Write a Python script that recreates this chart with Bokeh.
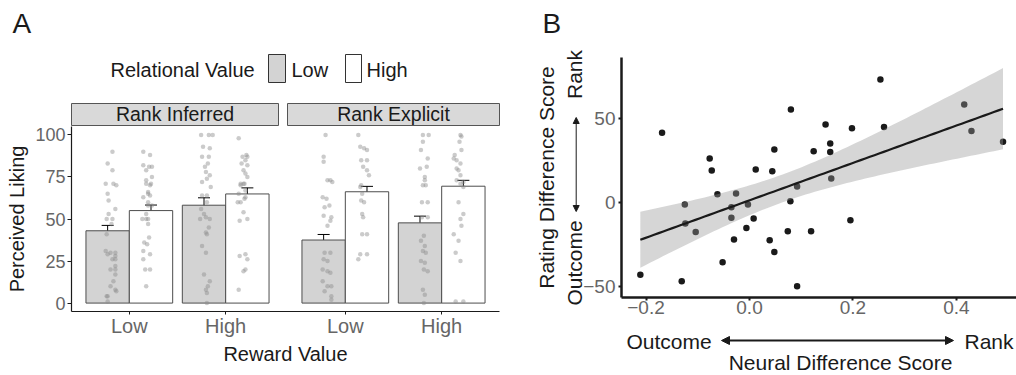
import numpy as np
from bokeh.plotting import figure
from bokeh.models import (FactorRange, Range1d, FixedTicker, Label, BoxAnnotation,
                          Arrow, NormalHead, ColumnDataSource, Whisker, TeeHead)
from bokeh.transform import dodge
from bokeh.layouts import row
from bokeh.embed import file_html
from bokeh.resources import INLINE

FONT = "Liberation Sans"

# ---------------- data: panel A ----------------
facets = ["Rank Inferred", "Rank Explicit"]
reward_levels = ["Low", "High"]
relational_levels = ["Low", "High"]

# mean perceived liking and SE, by reward value (Low, High)
inferred_rel_low_mean = [43.0, 58.2]
inferred_rel_low_se = [3.2, 4.4]
inferred_rel_high_mean = [55.0, 64.9]
inferred_rel_high_se = [3.3, 3.6]
explicit_rel_low_mean = [37.5, 47.7]
explicit_rel_low_se = [3.3, 4.0]
explicit_rel_high_mean = [66.2, 69.5]
explicit_rel_high_se = [3.2, 3.5]

# individual ratings (y) and their horizontal jitter (dx, category units)
inf_lowrw_lowrel_y = [90, 83, 79, 71, 71, 70, 65, 61, 56, 53, 50, 50, 47, 41, 31, 30, 30, 29, 28, 26,
                      26, 22, 20, 20, 17, 13, 10, 8, 7, 4, 4, 1]
inf_lowrw_lowrel_dx = [0.05, 0.00, 0.05, -0.02, 0.06, 0.09, 0.00, 0.01, 0.08, 0.01, -0.01, 0.05, 0.04,
                       -0.01, -0.02, 0.03, 0.08, 0.00, 0.08, 0.05, 0.08, 0.08, 0.03, 0.08, 0.08, 0.06,
                       0.03, 0.08, 0.09, -0.01, 0.00, 0.00]
inf_lowrw_highrel_y = [90, 88, 82, 81, 81, 79, 75, 73, 71, 71, 70, 66, 65, 64, 63, 60, 58, 58, 53, 50,
                       50, 50, 47, 39, 36, 35, 31, 29, 26, 20, 20, 10]
inf_lowrw_highrel_dx = [-0.08, -0.01, -0.08, -0.02, 0.01, -0.05, 0.01, -0.05, 0.00, -0.05, -0.01, -0.03,
                        -0.03, -0.01, -0.08, -0.03, 0.01, -0.03, -0.05, -0.09, -0.05, -0.03, -0.03, -0.02,
                        -0.07, -0.04, -0.08, -0.01, -0.08, -0.06, -0.01, -0.05]
inf_highrw_lowrel_y = [100, 100, 100, 93, 92, 87, 87, 83, 81, 78, 76, 74, 72, 69, 64, 64, 60, 56, 53, 51,
                       50, 50, 45, 42, 41, 34, 30, 17, 13, 10, 8, 6, 0]
inf_highrw_lowrel_dx = [-0.03, 0.05, 0.09, -0.01, 0.06, -0.02, 0.05, 0.04, 0.01, 0.02, 0.06, 0.03, -0.02,
                        0.07, 0.03, -0.02, 0.03, -0.03, 0.00, 0.02, -0.04, 0.06, 0.05, 0.02, 0.03, -0.02,
                        0.02, 0.00, 0.06, 0.04, 0.02, 0.03, 0.03]
inf_highrw_highrel_y = [98, 88, 87, 87, 85, 83, 82, 79, 77, 75, 71, 71, 71, 70, 67, 65, 63, 62, 60, 60,
                        54, 50, 49, 29, 28, 26, 20, 19, 8]
inf_highrw_highrel_dx = [-0.09, -0.01, -0.05, 0.00, -0.02, -0.06, 0.00, -0.04, -0.02, 0.00, -0.07, -0.03,
                         -0.04, -0.07, -0.02, -0.09, -0.02, -0.03, -0.07, -0.10, -0.04, 0.00, -0.08,
                         -0.02, -0.08, 0.00, -0.02, -0.04, -0.09]
exp_lowrw_lowrel_y = [100, 87, 84, 73, 73, 72, 63, 62, 58, 57, 52, 51, 49, 46, 30, 30, 26, 25, 20, 19,
                      18, 13, 10, 10, 7, 4, 2]
exp_lowrw_lowrel_dx = [0.02, 0.00, 0.00, 0.07, 0.04, 0.09, -0.01, 0.03, 0.06, 0.01, 0.00, 0.08, 0.07,
                       0.04, 0.01, 0.07, 0.00, 0.04, -0.01, 0.04, 0.07, -0.01, 0.04, 0.08, 0.01, 0.08, 0.08]
exp_lowrw_highrel_y = [100, 93, 92, 91, 85, 85, 81, 79, 76, 70, 69, 65, 61, 60, 53, 51, 41, 41, 29, 29, 26]
exp_lowrw_highrel_dx = [-0.09, -0.07, -0.03, 0.00, -0.06, 0.00, -0.04, 0.00, 0.02, -0.06, -0.07, -0.05,
                        -0.06, -0.03, -0.05, -0.04, -0.05, 0.00, -0.07, 0.00, -0.09]
exp_highrw_lowrel_y = [100, 100, 96, 91, 86, 81, 80, 75, 73, 70, 70, 60, 60, 51, 51, 40, 37, 34, 31, 30,
                       25, 24, 20, 19, 8, 5, 0]
exp_highrw_lowrel_dx = [0.03, 0.09, 0.03, 0.01, 0.08, 0.07, 0.00, 0.05, 0.05, 0.03, 0.06, 0.02, 0.08,
                        0.02, 0.08, 0.04, 0.01, 0.05, 0.03, 0.06, 0.01, 0.05, 0.04, 0.08, 0.03, 0.05, 0.04]
exp_highrw_highrel_y = [100, 99, 96, 91, 88, 86, 85, 83, 80, 79, 76, 73, 72, 71, 69, 60, 53, 50, 46, 41,
                        37, 30, 25, 1, 1]
exp_highrw_highrel_dx = [-0.03, -0.02, -0.04, -0.02, -0.09, -0.10, -0.07, -0.03, -0.07, -0.05, -0.03,
                         -0.07, 0.00, -0.03, 0.00, -0.05, 0.00, -0.03, -0.02, -0.10, -0.05, -0.08, -0.03,
                         -0.08, 0.00]

# ---------------- data: panel B ----------------
neural_diff = [-0.169, -0.077, -0.073, 0.012, 0.044, 0.048, 0.080, 0.124, 0.253, 0.147, 0.198, 0.260,
               0.156, 0.156, 0.415, 0.429, 0.490, 0.158, -0.125, -0.062, -0.026, -0.035, -0.003, 0.092,
               -0.124, -0.104, -0.035, 0.079, 0.008, -0.006, -0.030, 0.039, 0.074, 0.119, 0.048, -0.052,
               -0.211, -0.131, 0.092, 0.195]
rating_diff = [41.5, 26.2, 19.0, 19.6, 18.6, 31.5, 55.4, 30.5, 73.2, 46.4, 44.2, 45.0,
               35.1, 30.0, 58.3, 42.5, 36.1, 14.3, -1.2, 4.9, 5.4, -2.8, -1.2, 9.5,
               -12.5, -17.5, -9.1, 0.8, -9.5, -15.1, -22.0, -22.4, -17.1, -17.1, -29.4, -35.5,
               -42.9, -46.8, -49.8, -10.5]
b_xticks = [-0.2, 0.0, 0.2, 0.4]
b_xtick_labels = ["\u22120.2", "0.0", "0.2", "0.4"]
b_yticks = [-50, 0, 50]
b_ytick_labels = ["\u221250", "0", "50"]

WIN_W, WIN_H = 1016, 375

# ================= panel A (placed at page x = A_POS) =================
A_POS = -20
A_LEFT, A_TOP, A_FW, A_FH = 91, 126, 428, 185
A_W, A_H = A_LEFT + A_FW + 11, WIN_H
factors = [(f, r) for f in facets for r in reward_levels]
xr = FactorRange(factors=factors, group_padding=0.2415, range_padding=0.1,
                 range_padding_units="absolute")
pA = figure(width=A_W, height=A_H, x_range=xr, y_range=Range1d(-5, 105),
            output_backend="svg", toolbar_location=None,
            min_border_left=A_LEFT, min_border_right=A_W - A_LEFT - A_FW,
            min_border_top=A_TOP, min_border_bottom=A_H - A_TOP - A_FH)
pA.outline_line_color = None
pA.xgrid.visible = False
pA.ygrid.visible = False

summ = {
    ("Rank Inferred", "Low"): (inferred_rel_low_mean, inferred_rel_low_se),
    ("Rank Inferred", "High"): (inferred_rel_high_mean, inferred_rel_high_se),
    ("Rank Explicit", "Low"): (explicit_rel_low_mean, explicit_rel_low_se),
    ("Rank Explicit", "High"): (explicit_rel_high_mean, explicit_rel_high_se),
}
jit = {
    ("Rank Inferred", "Low", "Low"): (inf_lowrw_lowrel_y, inf_lowrw_lowrel_dx),
    ("Rank Inferred", "Low", "High"): (inf_lowrw_highrel_y, inf_lowrw_highrel_dx),
    ("Rank Inferred", "High", "Low"): (inf_highrw_lowrel_y, inf_highrw_lowrel_dx),
    ("Rank Inferred", "High", "High"): (inf_highrw_highrel_y, inf_highrw_highrel_dx),
    ("Rank Explicit", "Low", "Low"): (exp_lowrw_lowrel_y, exp_lowrw_lowrel_dx),
    ("Rank Explicit", "Low", "High"): (exp_lowrw_highrel_y, exp_lowrw_highrel_dx),
    ("Rank Explicit", "High", "Low"): (exp_highrw_lowrel_y, exp_highrw_lowrel_dx),
    ("Rank Explicit", "High", "High"): (exp_highrw_highrel_y, exp_highrw_highrel_dx),
}
bar_fill = {"Low": "#d3d3d3", "High": "#ffffff"}
offs = {"Low": -0.225, "High": 0.225}

srcs = {}
for rel in relational_levels:
    xs, tops, ups, los = [], [], [], []
    for f in facets:
        means, ses = summ[(f, rel)]
        for rw, m, s in zip(reward_levels, means, ses):
            xs.append((f, rw)); tops.append(m); ups.append(m + s); los.append(m - s)
    srcs[rel] = ColumnDataSource(dict(x=xs, top=tops, upper=ups, lower=los))
    pA.vbar(x=dodge("x", offs[rel], range=pA.x_range), top="top", bottom=0, width=0.45,
            source=srcs[rel], fill_color=bar_fill[rel], line_color="#4d4d4d", line_width=1)

px_all, py_all = [], []
for (f, rw, rel), (ys, dxs) in jit.items():
    for yv, d in zip(ys, dxs):
        px_all.append((f, rw, offs[rel] + d))
        py_all.append(yv)
pA.scatter(x=px_all, y=py_all, size=4.5, fill_color="#8c8c8c", fill_alpha=0.45, line_color=None)

for rel in relational_levels:
    pA.add_layout(Whisker(source=srcs[rel], base=dodge("x", offs[rel], range=pA.x_range),
                          upper="upper", lower="lower", line_color="black", line_width=1,
                          upper_head=TeeHead(size=12, line_color="black", line_width=1),
                          lower_head=TeeHead(size=12, line_color="black", line_width=1)))

pA.yaxis.ticker = FixedTicker(ticks=[0, 25, 50, 75, 100])
pA.yaxis.minor_tick_line_color = None
pA.yaxis.major_tick_in = 0
pA.yaxis.major_tick_out = 4
pA.yaxis.major_label_standoff = 2
pA.yaxis.major_label_text_font = FONT
pA.yaxis.major_label_text_font_size = "18px"
pA.yaxis.major_label_text_color = "#666666"
pA.yaxis.axis_label = "Perceived Liking"
pA.yaxis.axis_label_standoff = 4
pA.xaxis.axis_label = "Reward Value"
pA.xaxis.axis_label_standoff = 3
pA.xaxis.major_tick_in = 0
pA.xaxis.major_tick_out = 3
pA.xaxis.major_label_standoff = 0
pA.xaxis.major_label_text_font = FONT
pA.xaxis.major_label_text_font_size = "20px"
pA.xaxis.major_label_text_color = "#666666"
pA.xaxis.group_text_font_size = "1px"
pA.xaxis.group_text_color = None
pA.xaxis.separator_line_color = None
for a in (pA.xaxis[0], pA.yaxis[0]):
    a.axis_line_color = "#1a1a1a"
    a.axis_line_width = 1.2
    a.major_tick_line_color = "#1a1a1a"
    a.axis_label_text_font = FONT
    a.axis_label_text_font_size = "20px"
    a.axis_label_text_font_style = "normal"
    a.axis_label_text_color = "#1a1a1a"

# ================= panel B (placed at page x = B_POS) =================
B_POS = 510
B_LEFT, B_TOP, B_FW, B_FH = 111, 57, WIN_W - 510 - 111, 240
B_W, B_H = B_LEFT + B_FW, WIN_H
BX0 = -0.2474
BX1 = BX0 + B_FW / 517.4
BY0, BY1 = -56.5, 86.3
pB = figure(width=B_W, height=B_H, x_range=Range1d(BX0, BX1), y_range=Range1d(BY0, BY1),
            output_backend="svg", toolbar_location=None,
            min_border_left=B_LEFT, min_border_right=0,
            min_border_top=B_TOP, min_border_bottom=B_H - B_TOP - B_FH)
pB.outline_line_color = None
pB.xgrid.visible = False
pB.ygrid.visible = False

xd = np.array(neural_diff)
yd = np.array(rating_diff)
n = len(xd)
slope, inter = np.polyfit(xd, yd, 1)
resid = yd - (inter + slope * xd)
s_err = np.sqrt(np.sum(resid ** 2) / (n - 2))
sxx = np.sum((xd - xd.mean()) ** 2)
xs_fit = np.linspace(xd.min(), xd.max(), 80)
y_fit = inter + slope * xs_fit
se_fit = s_err * np.sqrt(1.0 / n + (xs_fit - xd.mean()) ** 2 / sxx)
t_crit = 2.024

pB.scatter(x=neural_diff, y=rating_diff, size=6.5, fill_color="#1a1a1a", line_color=None)
pB.varea(x=xs_fit, y1=y_fit - t_crit * se_fit, y2=y_fit + t_crit * se_fit,
         fill_color="#999999", fill_alpha=0.4)
pB.line(x=xs_fit, y=y_fit, line_color="#1a1a1a", line_width=2.2)

pB.xaxis.ticker = FixedTicker(ticks=b_xticks)
pB.xaxis.major_label_overrides = {t: l for t, l in zip(b_xticks, b_xtick_labels)}
pB.yaxis.ticker = FixedTicker(ticks=b_yticks)
pB.yaxis.major_label_overrides = {t: l for t, l in zip(b_yticks, b_ytick_labels)}
for a in (pB.xaxis[0], pB.yaxis[0]):
    a.axis_line_color = "#1a1a1a"
    a.axis_line_width = 2.5
    a.major_tick_line_color = "#1a1a1a"
    a.major_tick_line_width = 2
    a.major_tick_in = 0
    a.major_tick_out = 3
    a.minor_tick_line_color = None
    a.major_label_text_font = FONT
    a.major_label_text_font_size = "19px"
    a.major_label_text_color = "#666666"
pB.xaxis.major_label_standoff = 0
pB.yaxis.major_label_standoff = 3
pB.yaxis.axis_label = "Rating Difference Score"
pB.yaxis.axis_label_text_font = FONT
pB.yaxis.axis_label_text_font_size = "21px"
pB.yaxis.axis_label_text_font_style = "normal"
pB.yaxis.axis_label_text_color = "#1a1a1a"
pB.yaxis.axis_label_standoff = 22

# ================= overlay for panel letters, strips, legend, arrows =================
pO = figure(width=WIN_W, height=WIN_H, x_range=Range1d(0, WIN_W), y_range=Range1d(WIN_H, 0),
            output_backend="svg", toolbar_location=None, x_axis_location=None,
            y_axis_location=None, min_border=0, min_border_left=0, min_border_right=0,
            min_border_top=0, min_border_bottom=0)
pO.outline_line_color = None
pO.background_fill_color = None
pO.border_fill_color = None
for g in list(pO.xgrid) + list(pO.ygrid):
    g.visible = False

TXT = "#1a1a1a"
MID = 0.35  # distance (in em) from the alphabetic baseline to the text box centre


def lbl(x, base, text, size, align="left", vertical=False):
    """Place text so that its baseline sits at `base` (page px)."""
    em = size * MID
    if vertical:
        pO.add_layout(Label(x=base - em, y=x, text=text, text_align=align, text_baseline="middle",
                            angle=np.pi / 2, text_font=FONT, text_font_size=f"{size}px",
                            text_color=TXT))
    else:
        pO.add_layout(Label(x=x, y=base - em, text=text, text_align=align, text_baseline="middle",
                            text_font=FONT, text_font_size=f"{size}px", text_color=TXT))


lbl(12, 33, "A", 28)
lbl(542, 33, "B", 28)

# facet strips
for (l, r), name in zip([(71, 278), (287, 499)], facets):
    pO.add_layout(BoxAnnotation(left=l, right=r, top=103, bottom=125, fill_color="#d9d9d9",
                                fill_alpha=1, line_color="#555555", line_width=1, line_alpha=1))
    lbl((l + r) / 2, 120.5, name, 19.5, align="center")

# legend
lbl(110, 76, "Relational Value", 20)
for (l, r), rel, tx in zip([(268, 285), (345, 361)], relational_levels, [291, 366]):
    pO.add_layout(BoxAnnotation(left=l, right=r, top=54, bottom=82, fill_color=bar_fill[rel],
                                fill_alpha=1, line_color="#333333", line_width=1, line_alpha=1))
    lbl(tx, 76, rel, 20)

# panel B direction annotations
lbl(74, 581.7, "Rank", 21, align="center", vertical=True)
lbl(262.5, 581.7, "Outcome", 21, align="center", vertical=True)
pO.add_layout(Arrow(x_start=575.7, y_start=211, x_end=575.7, y_end=117,
                    line_color=TXT, line_width=1,
                    start=NormalHead(size=6, fill_color=TXT, line_color=TXT),
                    end=NormalHead(size=6, fill_color=TXT, line_color=TXT)))
lbl(626, 348.3, "Outcome", 21)
lbl(964, 348.3, "Rank", 21)
pO.add_layout(Arrow(x_start=721, y_start=340, x_end=953, y_end=340,
                    line_color=TXT, line_width=2,
                    start=NormalHead(size=8, fill_color=TXT, line_color=TXT),
                    end=NormalHead(size=8, fill_color=TXT, line_color=TXT)))
lbl(840, 369.5, "Neural Difference Score", 21, align="center")

TEMPLATE = """{% extends base %}
{% block contents %}
<style>html, body { margin: 0 !important; padding: 0 !important; overflow: hidden; }</style>
<div style="position: absolute; left: """ + str(A_POS) + """px; top: 0px;"><div id="{{ roots[0].elementid }}"></div></div>
<div style="position: absolute; left: """ + str(B_POS) + """px; top: 0px;"><div id="{{ roots[1].elementid }}"></div></div>
<div style="position: absolute; left: 0px; top: 0px;"><div id="{{ roots[2].elementid }}"></div></div>
{% endblock %}"""

try:
    from bokeh.core.templates import FILE, get_env
    tpl = get_env().from_string(TEMPLATE)
    html = file_html([pA, pB, pO], INLINE, template=tpl, template_variables={"base": FILE})
except Exception:
    html = file_html(row(pA, pB), INLINE)
open("out.html", "w").write(html)
